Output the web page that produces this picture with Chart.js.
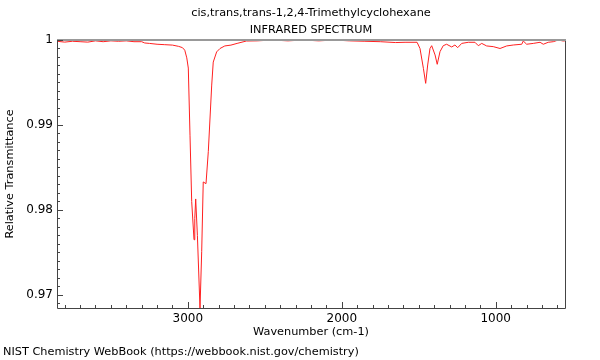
<!DOCTYPE html>
<html>
<head>
<meta charset="utf-8">
<script src="https://cdn.jsdelivr.net/npm/chart.js@4/dist/chart.umd.min.js"></script>
<style>
  html, body { margin: 0; padding: 0; background: #fff; }
  canvas { display: block; }
</style>
</head>
<body>
<canvas id="irChart" width="600" height="360"></canvas>
<script>
// Spectrum (wavenumber cm-1, relative transmittance)
const wavenumbers = [
  3850, 3800, 3750, 3700, 3650, 3600, 3550, 3500, 3450, 3400, 3350, 3300,
  3280, 3250, 3200, 3150, 3100, 3060, 3035, 3020, 3007, 2997, 2986, 2975,
  2960, 2955, 2949, 2938, 2921, 2910, 2900, 2882, 2867, 2845, 2835, 2813,
  2791, 2760, 2720, 2680, 2620, 2550, 2450, 2350, 2250, 2150, 2050, 1950,
  1850, 1750, 1650, 1589, 1511, 1492, 1470, 1455, 1442, 1427, 1416, 1394,
  1380, 1362, 1341, 1319, 1286, 1265, 1247, 1221, 1178, 1135, 1113, 1091,
  1059, 1016, 972, 929, 886, 831, 821, 799, 756, 712, 691, 659,
  626, 594, 561, 550
];
const transmittance = [
  0.99985, 0.99975, 0.99985, 0.9998, 0.99975, 0.9999, 0.9998, 0.9999, 0.99985, 0.9999, 0.9998, 0.9998,
  0.99965, 0.9996, 0.9995, 0.99945, 0.9994, 0.99925, 0.9991, 0.9988, 0.9979, 0.9967, 0.9888, 0.9810,
  0.9765, 0.9790, 0.9813, 0.9770, 0.9684, 0.9751, 0.9833, 0.9831, 0.9869, 0.9947, 0.9974, 0.9986,
  0.9990, 0.9993, 0.9994, 0.9996, 0.99988, 0.9999, 1.0, 0.9999, 1.0, 0.9999, 1.0, 0.9999,
  0.99985, 0.9998, 0.9997, 0.99973, 0.99973, 0.9990, 0.99667, 0.9949, 0.99706, 0.9990, 0.99933, 0.99824,
  0.99714, 0.99863, 0.99933, 0.9995, 0.99918, 0.99941, 0.9991, 0.9996, 0.99973, 0.99973, 0.99933, 0.9996,
  0.9993, 0.99922, 0.9990, 0.9993, 0.99941, 0.9995, 0.99988, 0.9995, 0.9996, 0.99973, 0.9995, 0.99973,
  0.9998, 1.0, 0.99988, 0.9999
];
const xTickValues = [1000, 2000, 3000];
const yTickValues = [0.97, 0.98, 0.99, 1];

const FONT = 'DejaVu Sans';
const points = wavenumbers.map((w, i) => ({ x: w, y: transmittance[i] }));

// frame, inward ticks and all free text
const decorPlugin = {
  id: 'decor',
  afterDraw(chart) {
    const ctx = chart.ctx;
    const area = chart.chartArea;
    const xs = chart.scales.x;
    const ys = chart.scales.y;
    ctx.save();

    // frame
    ctx.strokeStyle = '#444';
    ctx.lineWidth = 1;
    ctx.beginPath();
    ctx.moveTo(area.left + 0.5, area.top);
    ctx.lineTo(area.left + 0.5, area.bottom + 0.5);
    ctx.lineTo(area.right + 0.5, area.bottom + 0.5);
    ctx.lineTo(area.right + 0.5, area.top);
    ctx.stroke();
    ctx.strokeStyle = '#999';
    ctx.lineWidth = 2;
    ctx.beginPath();
    ctx.moveTo(area.left, area.top);
    ctx.lineTo(area.right + 1, area.top);
    ctx.stroke();

    // x ticks, every 100 cm-1
    ctx.strokeStyle = '#444';
    ctx.lineWidth = 1;
    ctx.beginPath();
    for (let w = 600; w <= 3800; w += 100) {
      const px = Math.round(xs.getPixelForValue(w)) + 0.5;
      const len = w % 1000 === 0 ? 6 : 3;
      ctx.moveTo(px, area.bottom);
      ctx.lineTo(px, area.bottom - len);
    }
    // y ticks, every 0.001
    for (let k = 969; k <= 1000; k++) {
      const v = k / 1000;
      const py = Math.round(ys.getPixelForValue(v)) + 0.5;
      const len = k % 10 === 0 ? 6 : 3;
      ctx.moveTo(area.left, py);
      ctx.lineTo(area.left + len, py);
    }
    ctx.stroke();

    // texts
    ctx.fillStyle = '#000';
    ctx.font = '11.3px "' + FONT + '"';
    ctx.textBaseline = 'middle';
    ctx.textAlign = 'center';
    const cx = (area.left + area.right) / 2;
    ctx.fillText('cis,trans,trans-1,2,4-Trimethylcyclohexane', cx, 13);
    ctx.fillText('INFRARED SPECTRUM', cx, 30);
    ctx.fillText('Wavenumber (cm-1)', cx, 332);
    ctx.textAlign = 'left';
    ctx.fillText('NIST Chemistry WebBook (https://webbook.nist.gov/chemistry)', 3, 352);
    ctx.translate(10, (area.top + area.bottom) / 2);
    ctx.rotate(-Math.PI / 2);
    ctx.textAlign = 'center';
    ctx.fillText('Relative Transmittance', 0, 0);
    ctx.restore();
  }
};

new Chart(document.getElementById('irChart').getContext('2d'), {
  type: 'line',
  data: {
    datasets: [{
      data: points,
      borderColor: '#ff2020',
      borderWidth: 1,
      pointRadius: 0,
      tension: 0,
      fill: false
    }]
  },
  options: {
    responsive: false,
    animation: false,
    layout: { padding: { top: 40, right: 35, left: 0, bottom: 0 } },
    plugins: { legend: { display: false }, tooltip: { enabled: false } },
    scales: {
      x: {
        type: 'linear',
        reverse: true,
        min: 550,
        max: 3850,
        grid: { display: false, drawTicks: false },
        border: { display: false },
        afterBuildTicks: (scale) => { scale.ticks = xTickValues.map(v => ({ value: v })); },
        afterFit: (scale) => { scale.height = 52; },
        ticks: {
          padding: 4,
          color: '#000',
          font: { family: FONT, size: 12 },
          maxRotation: 0,
          callback: (v) => String(v)
        }
      },
      y: {
        min: 0.96847,
        max: 1.0,
        grid: { display: false, drawTicks: false },
        border: { display: false },
        afterBuildTicks: (scale) => { scale.ticks = yTickValues.map(v => ({ value: v })); },
        afterFit: (scale) => { scale.width = 57; },
        ticks: {
          padding: 4,
          color: '#000',
          font: { family: FONT, size: 12 },
          callback: (v) => String(Math.round(v * 100) / 100)
        }
      }
    }
  },
  plugins: [decorPlugin]
});
</script>
</body>
</html>
